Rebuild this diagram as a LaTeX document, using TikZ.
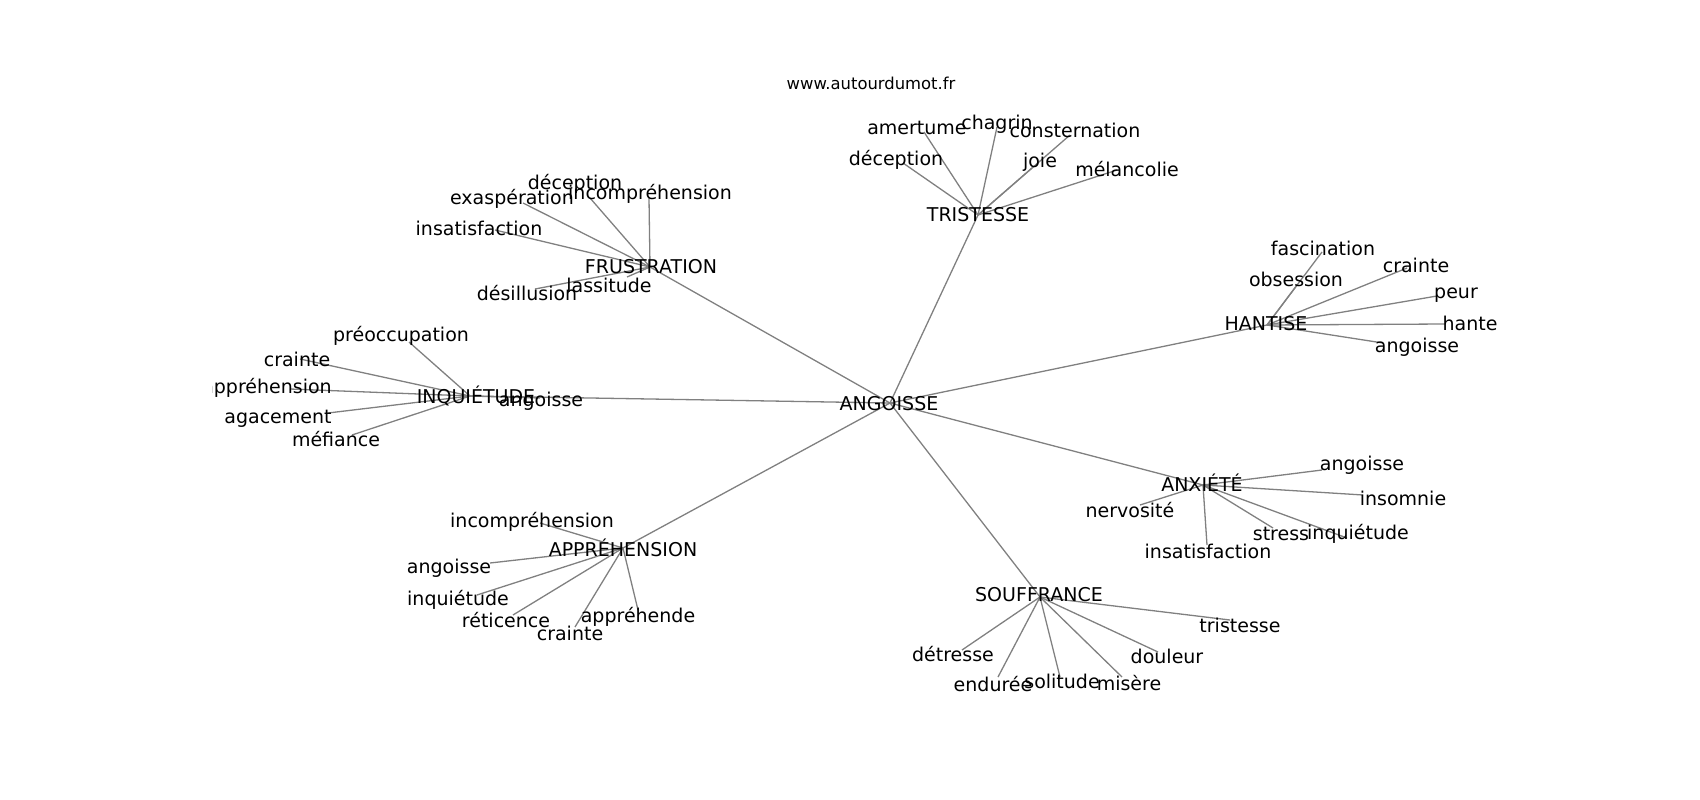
\documentclass[tikz,border=0pt]{standalone}
\usepackage{fontspec}
\setmainfont{DejaVu Sans}
\pgfdeclarelayer{bg}
\pgfsetlayers{bg,main}
\tikzset{
  lbl/.style={inner sep=0pt, text=black, yshift=-1pt, font=\fontsize{19}{22}\selectfont},
  ttl/.style={inner sep=0pt, text=black, font=\fontsize{16.4}{19}\selectfont},
  edge/.style={draw=gray, line width=1.3pt}
}
\newcommand\leafnode[4]{%
  \node[lbl] (#1) at (#2) {#4};
  \coordinate (#1e) at (#3);
}
\begin{document}
\begin{tikzpicture}[x=1pt,y=-1pt]
\useasboundingbox (0,0) rectangle (1700,800);
\node[ttl] (title) at (871,83) {www.autourdumot.fr};
\begin{scope}
\clip (212.5,96) rectangle (1530,712);
% hubs
\node[lbl] (A) at (889,403) {ANGOISSE};
\node[lbl] (FR) at (651,266) {FRUSTRATION};
\node[lbl] (TR) at (978,214) {TRISTESSE};
\node[lbl] (HA) at (1266,323) {HANTISE};
\node[lbl] (IN) at (476,395) {INQUIÉTUDE};
\node[lbl] (AX) at (1202,482) {ANXIÉTÉ};
\node[lbl] (SO) at (1039,594) {SOUFFRANCE};
\node[lbl] (AP) at (623,547) {APPRÉHENSION};
\coordinate (Ae) at (890,403);
\coordinate (FRe) at (650,267);
\coordinate (TRe) at (978,215);
\coordinate (HAe) at (1267,325);
\coordinate (INe) at (470,396);
\coordinate (AXe) at (1203,485);
\coordinate (SOe) at (1040,597);
\coordinate (APe) at (623,548);
% FRUSTRATION
\leafnode{fr1}{575,183}{590,198}{déception}
\leafnode{fr2}{650,193}{649,198}{incompréhension}
\leafnode{fr3}{512,198}{523,203}{exaspération}
\leafnode{fr4}{479,227}{495,230}{insatisfaction}
\leafnode{fr5}{609,284}{627,277}{lassitude}
\leafnode{fr6}{527,292}{535,289}{désillusion}
% TRISTESSE
\leafnode{tr1}{917,127}{924,132}{amertume}
\leafnode{tr2}{997,123}{997,127}{chagrin}
\leafnode{tr3}{1075,129}{1070,135}{consternation}
\leafnode{tr4}{896,159}{903,163}{déception}
\leafnode{tr5}{1040,161}{1032,168}{joie}
\leafnode{tr6}{1127,168}{1117,170}{mélancolie}
% HANTISE
\leafnode{ha1}{1323,247}{1322,252}{fascination}
\leafnode{ha2}{1296,278}{1297,285}{obsession}
\leafnode{ha3}{1416,264}{1407,268}{crainte}
\leafnode{ha4}{1456,294}{1437,296}{peur}
\leafnode{ha5}{1470,322}{1445,324}{hante}
\leafnode{ha6}{1417,346}{1383,343}{angoisse}
% INQUIETUDE
\leafnode{in1}{401,335}{409,342}{préoccupation}
\leafnode{in2}{297,358}{300,359}{crainte}
\leafnode{in3}{267,387}{290,389}{appréhension}
\leafnode{in4}{278,418}{328,413}{agacement}
\leafnode{in5}{336,438}{352,435}{méfiance}
\leafnode{in6}{541,400}{540,398}{angoisse}
% ANXIETE
\leafnode{ax1}{1362,464}{1322,470}{angoisse}
\leafnode{ax2}{1403,497}{1363,495}{insomnie}
\leafnode{ax3}{1130,509}{1140,505}{nervosité}
\leafnode{ax4}{1281,533}{1273,528}{stress}
\leafnode{ax5}{1358,533}{1347,538}{inquiétude}
\leafnode{ax6}{1208,550}{1207,545}{insatisfaction}
% APPREHENSION
\leafnode{ap1}{532,521}{540,523}{incompréhension}
\leafnode{ap2}{449,567}{490,563}{angoisse}
\leafnode{ap3}{458,599}{477,595}{inquiétude}
\leafnode{ap4}{506,619}{513,615}{réticence}
\leafnode{ap5}{570,632}{575,627}{crainte}
\leafnode{ap6}{638,616}{638,610}{appréhende}
% SOUFFRANCE
\leafnode{so1}{1240,624}{1230,620}{tristesse}
\leafnode{so2}{953,653}{962,650}{détresse}
\leafnode{so3}{1167,655}{1158,652}{douleur}
\leafnode{so4}{993,683}{998,677}{endurée}
\leafnode{so5}{1062,680}{1060,677}{solitude}
\leafnode{so6}{1129,682}{1122,677}{misère}
\end{scope}
\begin{pgfonlayer}{bg}
\foreach \h in {FR,TR,HA,IN,AX,SO,AP}
  \draw[edge] (Ae) -- (\h e);
\foreach \h/\p in {FR/fr,TR/tr,HA/ha,IN/in,AX/ax,SO/so,AP/ap}
  \foreach \i in {1,...,6}
    \draw[edge] (\h e) -- (\p\i e);
\end{pgfonlayer}
\end{tikzpicture}
\end{document}
